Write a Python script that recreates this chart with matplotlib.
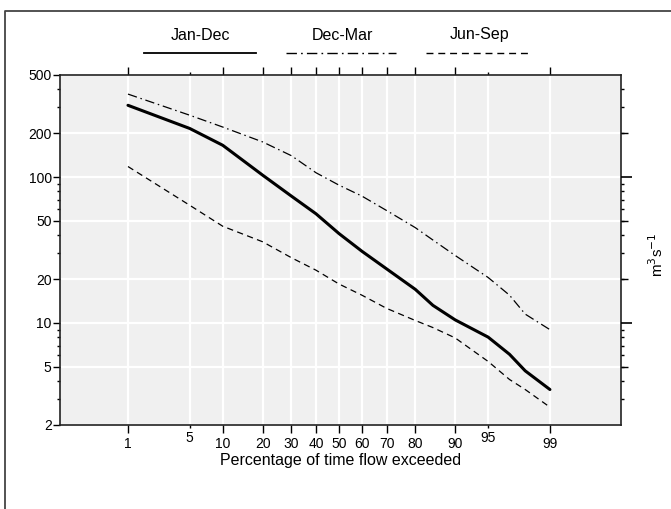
import numpy as np
import matplotlib
matplotlib.use('Agg')
import matplotlib.pyplot as plt
from matplotlib.lines import Line2D
from matplotlib.ticker import FixedLocator, NullFormatter, FixedFormatter
from statistics import NormalDist

# ---- data ----
pct      = [1, 5, 10, 20, 30, 40, 50, 60, 70, 80, 85, 90, 95, 97, 98, 99]
jan_dec  = [310, 215, 165, 103, 74, 56, 41, 31, 23.5, 17, 13.2, 10.5, 8.0, 6.1, 4.7, 3.5]
dec_mar  = [370, 265, 220, 174, 140, 107, 88, 74, 59, 45, 37, 29, 20.5, 15.5, 11.5, 9.0]
jun_sep  = [118, 64, 46, 36, 28, 23, 18.5, 15.5, 12.6, 10.4, 9.3, 7.9, 5.45, 4.1, 3.5, 2.65]

x_major = [1, 10, 20, 30, 40, 50, 60, 70, 80, 90, 99]
x_minor = [5, 95]
y_major = [2, 5, 10, 20, 50, 100, 200, 500]
series_labels = ["Jan-Dec", "Dec-Mar", "Jun-Sep"]

plt.rcParams['font.family'] = ['Liberation Sans', 'DejaVu Sans']

nd = NormalDist()

def fwd(x):
    a = np.clip(np.asarray(x, dtype=float), 1e-6, 100 - 1e-6)
    return np.vectorize(lambda v: nd.inv_cdf(v / 100.0))(a)

def inv(z):
    a = np.asarray(z, dtype=float)
    return np.vectorize(lambda v: nd.cdf(v) * 100.0)(a)

W, H = 671, 509
fig = plt.figure(figsize=(W / 100, H / 100), dpi=100)
ax = fig.add_axes([60 / W, 1 - 425 / H, (621 - 60) / W, (425 - 75) / H])
ax.set_facecolor('#f0f0f0')

ax.set_xscale('function', functions=(fwd, inv))
ax.set_yscale('log')
ax.set_xlim(inv(-3.076), inv(3.11))
ax.set_ylim(2, 500)

dash_dot = (0, (7.5, 3.0, 1.2, 3.0))
dashed = (0, (5.0, 3.5))
ax.plot(pct, dec_mar, color='black', lw=0.9, linestyle=dash_dot, zorder=3)
ax.plot(pct, jun_sep, color='black', lw=0.9, linestyle=dashed, zorder=3)
ax.plot(pct, jan_dec, color='black', lw=2.2, solid_capstyle='round', zorder=4)

# x ticks
ax.xaxis.set_major_locator(FixedLocator(x_major))
ax.xaxis.set_major_formatter(FixedFormatter([str(v) for v in x_major]))
ax.xaxis.set_minor_locator(FixedLocator(x_minor))
ax.xaxis.set_minor_formatter(FixedFormatter([str(v) for v in x_minor]))
ax.tick_params(axis='x', which='major', direction='out', length=5, width=1,
               pad=3, labelsize=10, top=True, bottom=True)
ax.tick_params(axis='x', which='minor', direction='out', length=2.5, width=1,
               pad=1.5, labelsize=10, top=True, bottom=True)
ax.tick_params(axis='x', which='major', top=True, length=6)

# y ticks (left)
ax.yaxis.set_major_locator(FixedLocator(y_major))
ax.yaxis.set_major_formatter(FixedFormatter([str(v) for v in y_major]))
ymin_ticks = [v * m for m in (1, 10, 100) for v in (3, 4, 6, 7, 8, 9) if v * m < 500]
ax.yaxis.set_minor_locator(FixedLocator(ymin_ticks))
ax.yaxis.set_minor_formatter(NullFormatter())
ax.tick_params(axis='y', which='major', direction='out', length=5, width=1,
               pad=1, labelsize=10, right=False)
ax.tick_params(axis='y', which='minor', direction='out', length=2, width=1, right=False)

# grid
ax.grid(True, which='major', axis='both', color='white', lw=1.6)
ax.grid(True, which='minor', axis='x', color='white', lw=1.6)
ax.set_axisbelow(True)

for s in ax.spines.values():
    s.set_linewidth(1.2)
    s.set_color('#222222')

ax.set_xlabel("Percentage of time flow exceeded", fontsize=11.5, labelpad=1)

# right axis ticks
ax2 = ax.twinx()
ax2.set_yscale('log')
ax2.set_ylim(2, 500)
ax2.yaxis.set_major_locator(FixedLocator([10, 100]))
ax2.yaxis.set_major_formatter(NullFormatter())
rmin = [v * m for m in (1, 10, 100) for v in (2, 3, 4, 5, 6, 7, 8, 9) if 2 < v * m < 500 and v * m not in (10, 100)]
ax2.yaxis.set_minor_locator(FixedLocator(rmin))
ax2.yaxis.set_minor_formatter(NullFormatter())
ax2.tick_params(axis='y', which='major', direction='out', length=8, width=1.2)
ax2.tick_params(axis='y', which='minor', direction='out', length=2.5, width=1)
for s in ax2.spines.values():
    s.set_visible(False)

ax3 = ax.twinx()
ax3.set_yscale('log')
ax3.set_ylim(2, 500)
ax3.yaxis.set_major_locator(FixedLocator([5, 20, 50, 200]))
ax3.yaxis.set_major_formatter(NullFormatter())
ax3.yaxis.set_minor_locator(FixedLocator([]))
ax3.tick_params(axis='y', which='major', direction='out', length=5, width=1)
for s in ax3.spines.values():
    s.set_visible(False)

fig.text(657 / W, 1 - 255 / H, r'm$^{3}$s$^{-1}$', rotation=90, ha='center', va='center',
         fontsize=11)

# legend above the plot
text_x = [200, 342, 480]
line_x = [(144, 256), (286, 396), (426, 532)]
styles = [dict(lw=1.3, linestyle='-'), dict(lw=1.0, linestyle=dash_dot), dict(lw=1.0, linestyle=dashed)]
for lab, tx, (x0, x1), st in zip(series_labels, text_x, line_x, styles):
    fig.text(tx / W, 1 - 35 / H, lab, ha='center', va='center', fontsize=11.5)
    fig.add_artist(Line2D([x0 / W, x1 / W], [1 - 53 / H, 1 - 53 / H], color='black',
                          transform=fig.transFigure, **st))

# outer frame (left and top edges visible)
fig.add_artist(Line2D([5 / W, 5 / W, 1.0], [0.0, 1 - 11 / H, 1 - 11 / H], color='#444444',
                      lw=1.3, transform=fig.transFigure))

fig.savefig('out.png', dpi=100)
